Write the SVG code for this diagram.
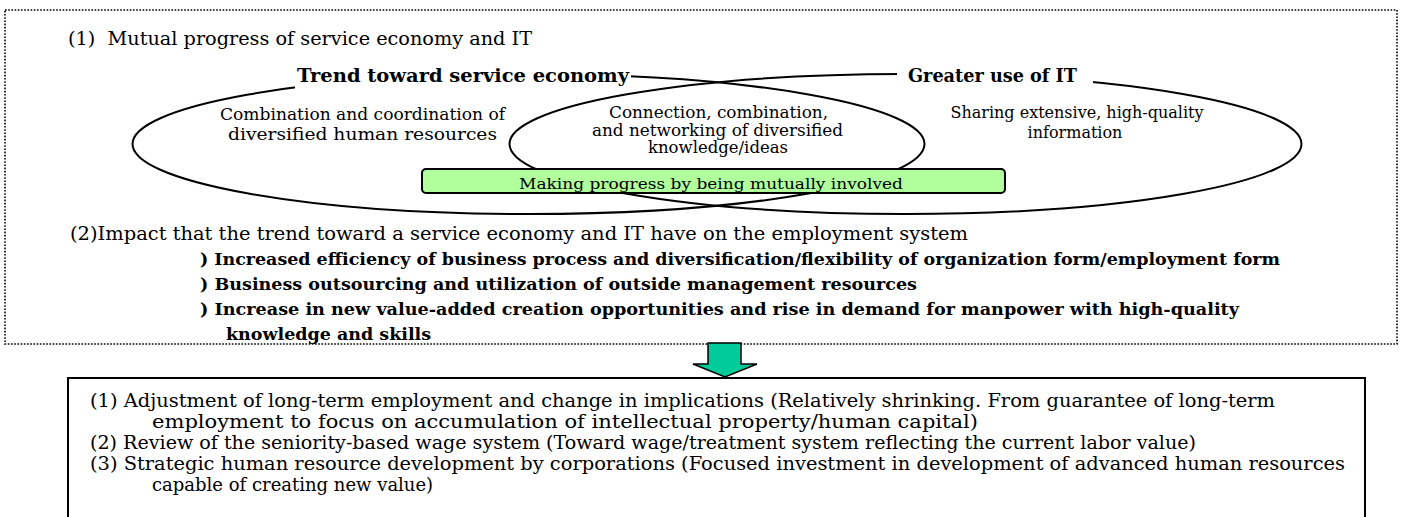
<svg xmlns="http://www.w3.org/2000/svg" width="1403" height="517" viewBox="0 0 1403 517">
<style>
text{font-family:"DejaVu Serif","Liberation Serif",serif;fill:#000}
.t{font-size:18px}
.h{font-size:19px;font-weight:bold}
.s{font-size:16px}
.m{font-size:15px}
.bl{font-size:16px;font-weight:bold}
.bx{font-size:18px}
.ell{fill:none;stroke:#000;stroke-width:2}
</style>
<rect width="1403" height="517" fill="#fff"/>
<g id="frame">
<rect x="5" y="10" width="1392" height="334" fill="none" stroke="#000" stroke-width="1.6" stroke-dasharray="1.6 1.6"/>
<text class="t" x="68" y="45" textLength="464" lengthAdjust="spacingAndGlyphs" xml:space="preserve">(1)  Mutual progress of service economy and IT</text>
</g>
<g id="service-economy">
<ellipse class="ell" cx="528.5" cy="144" rx="396" ry="70"/>
</g>
<g id="it-use">
<ellipse class="ell" cx="905.5" cy="144" rx="396" ry="70"/>
</g>
<g id="service-label">
<rect x="295" y="62" width="336" height="28" fill="#fff"/>
<text class="h" x="297" y="82" textLength="332" lengthAdjust="spacingAndGlyphs">Trend toward service economy</text>
<text class="s" x="362.5" y="120" text-anchor="middle" textLength="285" lengthAdjust="spacingAndGlyphs">Combination and coordination of</text>
<text class="s" x="362.5" y="140" text-anchor="middle" textLength="269" lengthAdjust="spacingAndGlyphs">diversified human resources</text>
</g>
<g id="it-label">
<rect x="897" y="60" width="196" height="30" fill="#fff"/>
<text class="h" x="908" y="82" textLength="169" lengthAdjust="spacingAndGlyphs">Greater use of IT</text>
<text class="s" x="1077" y="118" text-anchor="middle">Sharing extensive, high-quality</text>
<text class="s" x="1075" y="138" text-anchor="middle">information</text>
</g>
<g id="overlap-label">
<text class="s" x="718.5" y="118" text-anchor="middle" textLength="219" lengthAdjust="spacingAndGlyphs">Connection, combination,</text>
<text class="s" x="717.5" y="136" text-anchor="middle" textLength="251" lengthAdjust="spacingAndGlyphs">and networking of diversified</text>
<text class="s" x="718" y="153" text-anchor="middle" textLength="140" lengthAdjust="spacingAndGlyphs">knowledge/ideas</text>
</g>
<g id="mutual-bar">
<rect x="422" y="169" width="583" height="24" rx="4" fill="#b0ff9c" stroke="#000" stroke-width="2"/>
<text class="m" x="711" y="189" text-anchor="middle" textLength="384" lengthAdjust="spacingAndGlyphs">Making progress by being mutually involved</text>
</g>
<g id="impact">
<text class="t" x="70" y="240" textLength="898" lengthAdjust="spacingAndGlyphs">(2)Impact that the trend toward a service economy and IT have on the employment system</text>
<text class="bl" x="200" y="265" textLength="1080" lengthAdjust="spacingAndGlyphs">) Increased efficiency of business process and diversification/flexibility of organization form/employment form</text>
<text class="bl" x="200" y="290" textLength="717" lengthAdjust="spacingAndGlyphs">) Business outsourcing and utilization of outside management resources</text>
<text class="bl" x="200" y="315" textLength="1039" lengthAdjust="spacingAndGlyphs">) Increase in new value-added creation opportunities and rise in demand for manpower with high-quality</text>
<text class="bl" x="226" y="340" textLength="205" lengthAdjust="spacingAndGlyphs">knowledge and skills</text>
</g>
<g id="connectors">
<path d="M708,343 H741 V364 H757 L725,377 L693,364 H708 Z" fill="#00cc99" stroke="#000" stroke-width="1.5" stroke-linejoin="miter"/>
</g>
<g id="result-box">
<rect x="68" y="378" width="1297" height="160" fill="#fff" stroke="#000" stroke-width="2"/>
<text class="bx" x="90" y="407" textLength="1185" lengthAdjust="spacingAndGlyphs">(1) Adjustment of long-term employment and change in implications (Relatively shrinking. From guarantee of long-term</text>
<text class="bx" x="152" y="428" textLength="826" lengthAdjust="spacingAndGlyphs">employment to focus on accumulation of intellectual property/human capital)</text>
<text class="bx" x="90" y="449" textLength="1106" lengthAdjust="spacingAndGlyphs">(2) Review of the seniority-based wage system (Toward wage/treatment system reflecting the current labor value)</text>
<text class="bx" x="90" y="470" textLength="1255" lengthAdjust="spacingAndGlyphs">(3) Strategic human resource development by corporations (Focused investment in development of advanced human resources</text>
<text class="bx" x="152" y="491">capable of creating new value)</text>
</g>
</svg>
